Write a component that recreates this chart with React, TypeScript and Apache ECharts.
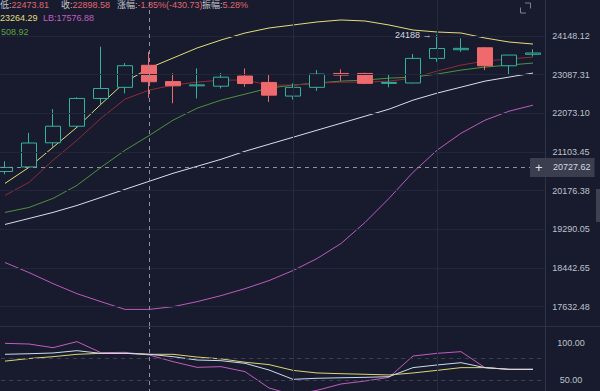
import React, { useEffect, useRef } from 'react';
import * as echarts from 'echarts';

const categories = ['01','02','03','04','05','06','07','08','09','10','11','12','13','14','15','16','17','18','19','20','21','22','23'];

const opens  = [20630, 20740, 21330, 21745, 22458, 22750, 23340, 22902, 22790, 22780, 23050, 22880, 22520, 22750, 23120, 23120, 22855, 22865, 23528, 23766, 23820, 23327, 23640];
const closes = [20730, 21325, 21745, 22458, 22720, 23329.31, 22898.58, 22790, 22815, 23020, 22850, 22545, 22750, 23103, 23076, 22855, 22880, 23528, 23800, 23804, 23327, 23619, 23676.04];
const lows   = [20564, 20730, 21230, 21720, 22310, 22590, 22473.81, 22335, 22458, 22720, 22765, 22370, 22430, 22658, 22923, 22835, 22750, 22855, 23436, 23710, 23211, 23076, 23580];
const highs  = [20877, 21580, 22180, 22490, 23849, 23400, 23705.6, 23125, 23256, 23130, 23256, 23076, 22855, 23211, 23230, 23140, 23103, 23650, 24188, 24084, 23840, 23625, 23780];

const ubLine    = [20348, 20731, 21219, 21720, 22309, 22888, 23264.29, 23537, 23813, 24036, 24232, 24374, 24459, 24545, 24602, 24573, 24459, 24317, 24261, 24232, 24092, 23980, 23924];
const redLine   = [20066, 20372, 20901, 21393, 21948, 22440, 22676, 22809, 22888, 22942, 22942, 22809, 22809, 22862, 22888, 22888, 22915, 22995, 23183, 23346, 23455, 23510, 23565];
const greenLine = [19673, 19787, 19996, 20301, 20731, 21146, 21508.92, 21898, 22205, 22414, 22571, 22729, 22809, 22862, 22915, 22942, 22995, 23022, 23103, 23211, 23292, 23346, 23401];
const whiteLine = [19400, 19535, 19673, 19833, 20019, 20207, 20396, 20587, 20755, 20925, 21121, 21294, 21468, 21644, 21821, 21999, 22180, 22414, 22597, 22755, 22915, 23022, 23130];
const lbLine    = [18560, 18345, 18111, 17901, 17735, 17577, 17576.88, 17632, 17735, 17860, 18006, 18175, 18388, 18646, 18975, 19445, 19996, 20611, 21146, 21568, 21898, 22128, 22283];

const kLine = [84.7, 85.5, 86.5, 89.6, 86, 86, 84.7, 81.5, 77, 76.1, 72.5, 63.5, 50.9, 52.3, 53, 53.6, 54.5, 66.7, 70.3, 73.4, 66.7, 64.4, 64.4];
const dLine = [75.5, 79, 81.5, 84.7, 86, 86, 84.7, 84.7, 81, 78.5, 74, 70.8, 63, 59.5, 58.5, 57.7, 56.8, 59.5, 63, 66.7, 66.7, 64.4, 64.4];
const jLine = [99.5, 98.6, 93.7, 101.8, 86.9, 87.4, 83.8, 74.8, 67.1, 68.0, 61.3, 39.2, 30, 36, 44.6, 48.6, 53.6, 82.4, 86.0, 88.3, 66.7, 64.4, 64.4];

const priceTicks = [17632.48, 18442.65, 19290.05, 20176.38, 21103.45, 22073.10, 23087.31, 24148.12];
const kdjDashed = [80, 50];
const lastPrice = 23676.04;
const crossPrice = 20727.62;
const crossIndex = 6;
const highIndex = 18;
const highValue = 24188;
const gridIndices = [12, 18];

const P0 = priceTicks[0];
const STEP = Math.log(priceTicks[priceTicks.length - 1] / P0) / (priceTicks.length - 1);
const toT = (p: number) => Math.log(p / P0) / STEP;

const FONT = "'Liberation Sans', 'Noto Sans CJK SC', sans-serif";
const BG = '#171b2d';
const UP = '#33b39c';
const DOWN = '#ef6a6c';
const OX = 7; // chart div is shifted 7px left of the page

function txt(x: number, y: number, text: string, fill: string, size = 9) {
  return {
    type: 'text', x: x + OX, y, silent: true, z: 100,
    style: { text, fill, fontSize: size, fontFamily: FONT, verticalAlign: 'middle', align: 'left' },
  };
}

export default function App() {
  const ref = useRef<HTMLDivElement>(null);
  useEffect(() => {
    if (!ref.current) return;
    const chart = echarts.init(ref.current, null, { renderer: 'svg' });
    const candleData = categories.map((_, i) => [toT(opens[i]), toT(closes[i]), toT(lows[i]), toT(highs[i])]);
    const tLine = (arr: number[]) => arr.map((v) => toT(v));
    const lineSeries = (name: string, data: number[], color: string, z = 3, extra: any = {}) => ({
      name, type: 'line', xAxisIndex: 0, yAxisIndex: 0, data: tLine(data), symbol: 'none', showSymbol: false,
      lineStyle: { color, width: 1 }, z, silent: true, ...extra,
    });
    const subSeries = (name: string, data: number[], color: string, extra: any = {}) => ({
      name, type: 'line', xAxisIndex: 1, yAxisIndex: 1, data, symbol: 'none', showSymbol: false,
      lineStyle: { color, width: 1 }, z: 3, silent: true, ...extra,
    });
    const axisLabelStyle = { color: '#bfc2cc', fontSize: 9, fontFamily: FONT, margin: 26, align: 'center' };
    const option: any = {
      animation: false,
      backgroundColor: BG,
      grid: [
        { left: 0, right: 55, top: 0, height: 326, outerBoundsMode: 'none', containLabel: false },
        { left: 0, right: 55, top: 327, height: 90, outerBoundsMode: 'none', containLabel: false },
      ],
      xAxis: [0, 1].map((g) => ({
        type: 'category', gridIndex: g, data: categories, boundaryGap: true,
        axisLine: { show: false }, axisTick: { show: false }, axisLabel: { show: false }, splitLine: { show: false },
      })),
      yAxis: [
        {
          type: 'value', gridIndex: 0, position: 'right', min: -0.5, max: 7.931, interval: 0.5,
          axisLine: { show: true, lineStyle: { color: '#2e3346' } }, axisTick: { show: false }, splitLine: { show: false },
          axisLabel: {
            ...axisLabelStyle,
            formatter: (v: number) => {
              const i = Math.round(v);
              if (Math.abs(v - i) < 1e-6 && i >= 0 && i < priceTicks.length) return priceTicks[i].toFixed(2);
              return '';
            },
          },
        },
        {
          type: 'value', gridIndex: 1, position: 'right', min: 0, max: 121.6, interval: 50,
          axisLine: { show: true, lineStyle: { color: '#2e3346' } }, axisTick: { show: false }, splitLine: { show: false },
          axisLabel: { ...axisLabelStyle, showMaxLabel: false, formatter: (v: number) => (v > 0 && v < 121 ? v.toFixed(2) : '') },
        },
      ],
      series: [
        lineSeries('LB', lbLine, '#bd5bbb', 1, {
          markLine: {
            silent: true, symbol: ['none', 'none'], animation: false,
            label: { show: false },
            data: [
              ...priceTicks.map((_, i) => ({ yAxis: i, lineStyle: { color: '#21263a', type: 'solid', width: 1 } })),
              ...gridIndices.map((i) => ({ xAxis: categories[i], lineStyle: { color: '#262b3e', type: 'solid', width: 1 } })),
            ],
          },
        }),
        lineSeries('WHITE', whiteLine, '#d8dcf0'),
        lineSeries('GREEN', greenLine, '#4f9140'),
        lineSeries('RED', redLine, '#8e2b3a'),
        lineSeries('UB', ubLine, '#e3dd7a'),
        {
          name: 'K', type: 'candlestick', xAxisIndex: 0, yAxisIndex: 0, data: candleData, barWidth: 15, z: 4, silent: true,
          itemStyle: { color: BG, color0: DOWN, borderColor: UP, borderColor0: DOWN, borderWidth: 1 },
          markPoint: {
            silent: true, animation: false, symbol: 'circle', symbolSize: 1, itemStyle: { color: 'transparent' },
            data: [{ coord: [categories[highIndex], toT(highValue)] }],
            label: { show: true, position: 'left', distance: 5, formatter: `${highValue} →`, color: '#d6d8e0', fontSize: 9, fontFamily: FONT },
          },
          markLine: {
            silent: true, symbol: ['none', 'none'], animation: false,
            data: [
              { xAxis: categories[crossIndex], lineStyle: { color: '#8d909e', type: [4, 4], width: 1 }, label: { show: false } },
              {
                yAxis: toT(crossPrice), lineStyle: { color: '#8d909e', type: [4, 4], width: 1 },
                label: {
                  show: true, position: 'end', distance: -15, formatter: `{p|+}{t|${crossPrice.toFixed(2)}}`,
                  backgroundColor: '#3a3e4f', padding: [3, 4, 3, 5],
                  rich: {
                    p: { width: 18, fontSize: 13, color: '#e0e2ea', fontFamily: FONT },
                    t: { fontSize: 9, color: '#d6d8e0', fontFamily: FONT },
                  },
                },
              },
              {
                yAxis: toT(lastPrice), lineStyle: { opacity: 0 },
                label: {
                  show: true, position: 'end', distance: 4, formatter: lastPrice.toFixed(2),
                  backgroundColor: '#1d9c77', color: '#ffffff', padding: [2, 4, 2, 4], fontSize: 9, fontFamily: FONT,
                },
              },
            ],
          },
        },
        subSeries('J', jLine, '#c45cc0', {
          z: 2,
          markLine: {
            silent: true, symbol: ['none', 'none'], animation: false, label: { show: false },
            data: [
              ...kdjDashed.map((v) => ({ yAxis: v, lineStyle: { color: '#3a3f52', type: [4, 4], width: 1 } })),
              ...gridIndices.map((i) => ({ xAxis: categories[i], lineStyle: { color: '#262b3e', type: 'solid', width: 1 } })),
              { xAxis: categories[crossIndex], lineStyle: { color: '#8d909e', type: [4, 4], width: 1 } },
            ],
          },
        }),
        subSeries('D', dLine, '#dcd575'),
        subSeries('KK', kLine, '#cfd9ee'),
      ],
      graphic: [
        { type: 'line', silent: true, z: 50, shape: { x1: 0, y1: 326.5, x2: 607, y2: 326.5 }, style: { stroke: '#2b3043', lineWidth: 1 } },
        txt(0, 5, '低:', '#c4c6d0'),
        txt(11.5, 5, '22473.81', '#e0676d'),
        txt(61, 5, '收:', '#c4c6d0'),
        txt(72.5, 5, '22898.58', '#e0676d'),
        txt(117, 5, '涨幅:', '#c4c6d0'),
        txt(137.5, 5, '-1.85%(-430.73)', '#e0676d'),
        txt(202, 5, '振幅:', '#c4c6d0'),
        txt(222.5, 5, '5.28%', '#e0676d'),
        txt(0, 17.5, '23264.29', '#e3dd7a'),
        txt(43, 17.5, 'LB:17576.88', '#c25fc0'),
        txt(1, 31.5, '508.92', '#5da23f'),
        { type: 'polyline', silent: true, z: 50, shape: { points: [[525 + OX, 3], [530.5 + OX, 3], [530.5 + OX, 8.5]] }, style: { stroke: '#7d8090', lineWidth: 1, fill: 'none' } },
        { type: 'polyline', silent: true, z: 50, shape: { points: [[520.5 + OX, 7.5], [520.5 + OX, 13], [526 + OX, 13]] }, style: { stroke: '#7d8090', lineWidth: 1, fill: 'none' } },
        { type: 'rect', silent: true, z: 50, shape: { x: 596 + OX, y: 189, width: 4, height: 33 }, style: { fill: '#3d4152' } },
      ],
    };
    chart.setOption(option);
    return () => chart.dispose();
  }, []);
  return <div ref={ref} style={{ position: 'fixed', left: -OX, top: 0, width: 600 + OX, height: 391 }} />;
}
